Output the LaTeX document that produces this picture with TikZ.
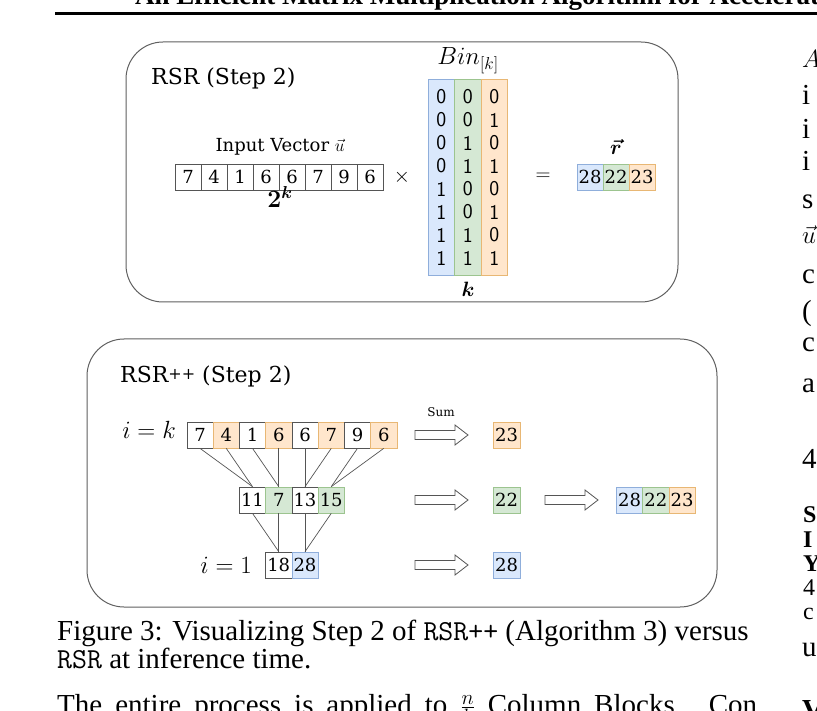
\documentclass[tikz,border=0pt]{standalone}
\usepackage{amsmath}
\usepackage{bm}
\usepackage{fontspec}
\setmainfont{Liberation Serif}
\newfontfamily\dserif{DejaVu Serif}
\definecolor{bF}{HTML}{DAE8FC}\definecolor{bD}{HTML}{8FAEDB}
\definecolor{gF}{HTML}{D5E8D4}\definecolor{gD}{HTML}{9CC48F}
\definecolor{oF}{HTML}{FFE6CC}\definecolor{oD}{HTML}{E8B774}
\definecolor{edge}{HTML}{555555}
\newcommand\cellfont{\dserif\fontsize{18}{18}\selectfont}
\newcommand\binfont{\sffamily\fontsize{21}{21}\selectfont}
\newcommand\ttlfont{\dserif\fontsize{22}{22}\selectfont}
\newcommand\lblfont{\dserif\fontsize{18}{18}\selectfont}
\newcommand\mfont{\fontsize{21}{21}\selectfont}
\newcommand\bigmfont{\fontsize{24}{24}\selectfont}
\newcommand\capfont{\fontsize{29}{29}\selectfont}
\newcommand\smcolfont{\fontsize{24}{24}\selectfont}
\tikzset{
  panel/.style={draw=gray!75!black, line width=1pt, rounded corners=37pt, inner sep=0pt},
  cell/.style={draw=edge, line width=0.7pt, minimum width=26.25pt, minimum height=26pt, inner sep=0pt, font=\cellfont},
  wcell/.style={cell, fill=white},
  ocell/.style={cell, fill=oF, draw=oD},
  gcell/.style={cell, fill=gF, draw=gD},
  bcell/.style={cell, fill=bF, draw=bD},
  bincol/.style={minimum width=26.5pt, minimum height=196pt, inner sep=0pt, line width=0.7pt},
  bindigit/.style={inner sep=0pt, font=\binfont},
  link/.style={draw=edge, line width=0.7pt},
  txt/.style={inner sep=0pt},
  coltxt/.style={inner sep=0pt, anchor=base west, text depth=0pt, text height=17pt, font=\capfont},
  smcoltxt/.style={inner sep=0pt, anchor=base west, text depth=0pt, text height=15pt, font=\smcolfont},
  blockarrow/.pic={\draw[draw=edge, line width=0.8pt, fill=white] (0,-4.5) -- (40,-4.5) -- (40,-10) -- (53,0) -- (40,10) -- (40,4.5) -- (0,4.5) -- cycle;}
}
\begin{document}
\begin{tikzpicture}[x=1pt,y=-1pt]
\useasboundingbox (0,0) rectangle (817,711);
\fill[white] (0,0) rectangle (817,711);
% page header
\node[txt, anchor=base west, font=\bfseries\fontsize{27}{27}\selectfont] (hdr) at (135,5) {An Efficient Matrix Multiplication Algorithm for Accelerating};
\coordinate (ruleL) at (55,13.5);
\coordinate (ruleR) at (817,13.5);
\draw[line width=3pt] (ruleL) -- (ruleR);

% ---------- RSR panel ----------
\node[panel, minimum width=552pt, minimum height=260pt] (p1) at (402,172) {};
\node[txt, anchor=base west, font=\ttlfont] (t1) at (151,85) {RSR (Step 2)};
\node[txt, anchor=base, font=\lblfont] (ulab) at (280,152) {Input Vector $\vec{u}$};
\foreach \v [count=\i from 0] in {7,4,1,6,6,7,9,6}
  \node[wcell, minimum width=26pt] (u\i) at (188+26*\i,177) {\v};
\node[txt, anchor=base, font=\fontsize{23}{23}\selectfont] (twok) at (280,208) {$\bm{2^k}$};
\node[txt, font=\mfont] (times) at (402,177) {$\times$};
\node[bincol, fill=bF, draw=bD] (c0) at (441.25,177) {};
\node[bincol, fill=gF, draw=gD] (c1) at (467.75,177) {};
\node[bincol, fill=oF, draw=oD] (c2) at (494.25,177) {};
\foreach \a/\b/\c [count=\j from 0] in {0/0/0,0/0/1,0/1/0,0/1/1,1/0/0,1/0/1,1/1/0,1/1/1}{
  \node[bindigit] (d0\j) at (441.25,97+23*\j) {\a};
  \node[bindigit] (d1\j) at (467.75,97+23*\j) {\b};
  \node[bindigit] (d2\j) at (494.25,97+23*\j) {\c};
}
\node[txt, anchor=base, font=\bigmfont] (binlab) at (468,65) {$Bin_{[k]}$};
\node[txt, anchor=base, font=\fontsize{22}{22}\selectfont] (klab) at (468,297) {$\bm{k}$};
\node[txt, font=\mfont] (eq) at (543,177) {$=$};
\node[txt, anchor=base, font=\mfont] (rlab) at (616,155) {$\bm{\vec{r}}$};
\node[bcell, minimum width=26pt] (r0) at (590,177) {28};
\node[gcell, minimum width=26pt] (r1) at (616,177) {22};
\node[ocell, minimum width=26pt] (r2) at (642,177) {23};

% ---------- RSR++ panel ----------
\node[panel, minimum width=630pt, minimum height=268pt] (p2) at (402,473) {};
\node[txt, anchor=base west, font=\ttlfont] (t2) at (120,383) {RSR\raisebox{3.5pt}{\fontsize{16}{16}\selectfont ++} (Step 2)};
\node[txt, anchor=base east, font=\fontsize{25}{25}\selectfont] (ik) at (176,438) {$i = k$};
\node[txt, anchor=base east, font=\fontsize{25}{25}\selectfont] (i1) at (252,573) {$i = 1$};
\foreach \v [count=\i from 0] in {7,4,1,6,6,7,9,6}{
  \pgfmathtruncatemacro\odd{mod(\i,2)}
  \ifnum\odd=1
    \node[ocell] (a\i) at (200+26.25*\i,435) {\v};
  \else
    \node[wcell] (a\i) at (200+26.25*\i,435) {\v};
  \fi
}
\node[wcell] (m0) at (252.5,500) {11};
\node[gcell] (m1) at (278.75,500) {7};
\node[wcell] (m2) at (305,500) {13};
\node[gcell] (m3) at (331.25,500) {15};
\node[wcell] (b0) at (278.75,565) {18};
\node[bcell] (b1) at (305,565) {28};
\foreach \s/\t in {a0/m0,a1/m0,a2/m1,a3/m1,a4/m2,a5/m2,a6/m3,a7/m3,m0/b0,m1/b0,m2/b1,m3/b1}
  \draw[link] (\s.south) -- (\t.north);
\node[txt, font=\dserif\fontsize{12}{12}\selectfont] (sum) at (441,412) {Sum};
\pic (ar1) at (415,435) {blockarrow};
\pic (ar2) at (415,500) {blockarrow};
\pic (ar3) at (415,565) {blockarrow};
\pic (ar4) at (545,500) {blockarrow};
\node[ocell, minimum width=27pt] (s23) at (506.5,435) {23};
\node[gcell, minimum width=27pt] (s22) at (506.5,500) {22};
\node[bcell, minimum width=27pt] (s28) at (506.5,565) {28};
\node[bcell] (f0) at (629.5,500) {28};
\node[gcell] (f1) at (655.75,500) {22};
\node[ocell] (f2) at (682,500) {23};

% ---------- caption and page text ----------
\node[txt, anchor=base west, font=\capfont] (cap1) at (57,640) {Figure 3: Visualizing Step 2 of \texttt{RSR++} (Algorithm 3) versus};
\node[txt, anchor=base west, font=\capfont] (cap2) at (57,668) {\texttt{RSR} at inference time.};
\node[txt, anchor=base west, font=\capfont] (body) at (57,714) {\makebox[700pt][s]{The entire process is applied to $\frac{n}{k}$ Column Blocks. Con}};
% right column (cut off)
\foreach \y/\t [count=\n] in {68/$A$,105/i,139/i,171/i,209/s,244/$\vec{u}$,284/c,321/(,352/c,392/a,468/4,656/u}
  \node[coltxt] (rc\n) at (802,\y) {\t};
\node[coltxt, font=\capfont\bfseries] (rv) at (802,719) {V};
\foreach \y/\t [count=\n] in {522/S,547/I,571/Y}
  \node[smcoltxt, font=\smcolfont\bfseries] (rb\n) at (803,\y) {\t};
\foreach \y/\t [count=\n] in {595/4,619/c}
  \node[smcoltxt] (rs\n) at (803,\y) {\t};
\end{tikzpicture}
\end{document}
